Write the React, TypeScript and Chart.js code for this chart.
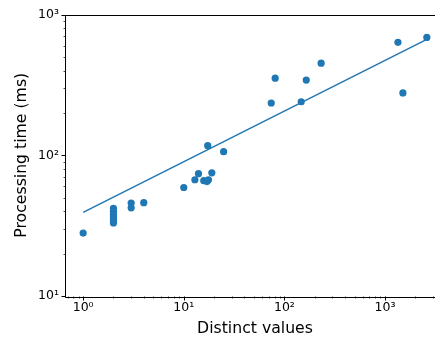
import React, { useEffect, useRef } from "react";
import { Chart, registerables } from "chart.js";

Chart.register(...registerables);

const distinctValues = [1, 2, 2, 2, 2, 2, 2, 2, 3, 3, 4, 10, 12.9, 14, 15.8, 17, 17.6, 19, 17.3, 24.9, 74, 81, 147, 165, 232, 1345, 1507, 2605];
const processingTimes = [28, 42, 40, 38, 37, 35.5, 34, 33, 45.7, 42.3, 46, 59, 67, 74, 66, 65, 67, 75, 117, 106, 235, 353, 240, 342, 451, 634, 277, 687];
const fitX = [1, 2605];
const fitY = [39.3, 666];
const xRange = [0.675, 3860];
const yRange = [10, 1000];
const superDigits: Record<string, string> = { "0": "⁰", "1": "¹", "2": "²", "3": "³", "4": "⁴", "-": "⁻" };

const BLUE = "#1f77b4";

function isDecade(v: number) {
  const l = Math.log10(v);
  return Math.abs(l - Math.round(l)) < 1e-9;
}
function decadeLabel(v: number) {
  const e = String(Math.round(Math.log10(v)));
  return "10" + e.split("").map((c) => superDigits[c] || c).join("");
}
function logTicks(min: number, max: number) {
  const out: { value: number; major: boolean }[] = [];
  for (let e = Math.floor(Math.log10(min)); e <= Math.ceil(Math.log10(max)); e++) {
    for (let m = 1; m <= 9; m++) {
      const v = m * Math.pow(10, e);
      if (v >= min * 0.9999 && v <= max * 1.0001) out.push({ value: v, major: m === 1 });
    }
  }
  return out;
}

const spinesAndTicks = {
  id: "spinesAndTicks",
  afterDraw(chart: any) {
    const ctx = chart.ctx;
    const { left, right, top, bottom } = chart.chartArea;
    ctx.save();
    ctx.strokeStyle = "#000";
    ctx.lineWidth = 1;
    ctx.beginPath();
    ctx.rect(Math.round(left) - 0.5, Math.round(top) + 0.5, Math.round(right - left), Math.round(bottom - top));
    ctx.stroke();
    const xs = chart.scales.x;
    const ys = chart.scales.y;
    for (const t of xs.ticks) {
      const p = xs.getPixelForValue(t.value);
      if (p < left - 0.5 || p > right + 0.5) continue;
      const len = isDecade(t.value) ? 4 : 2;
      ctx.lineWidth = isDecade(t.value) ? 1 : 0.7;
      ctx.beginPath();
      ctx.moveTo(Math.round(p) + 0.5, Math.round(bottom) + 0.5);
      ctx.lineTo(Math.round(p) + 0.5, Math.round(bottom) + 0.5 + len);
      ctx.stroke();
    }
    for (const t of ys.ticks) {
      const p = ys.getPixelForValue(t.value);
      if (p < top - 0.5 || p > bottom + 0.5) continue;
      const len = isDecade(t.value) ? 4 : 2;
      ctx.lineWidth = isDecade(t.value) ? 1 : 0.7;
      ctx.beginPath();
      ctx.moveTo(Math.round(left) - 0.5, Math.round(p) + 0.5);
      ctx.lineTo(Math.round(left) - 0.5 - len, Math.round(p) + 0.5);
      ctx.stroke();
    }
    ctx.restore();
  },
};

export default function App() {
  const ref = useRef<HTMLCanvasElement | null>(null);
  useEffect(() => {
    if (!ref.current) return;
    const font = "'DejaVu Sans', sans-serif";
    const chart = new Chart(ref.current, {
      type: "scatter",
      data: {
        datasets: [
          {
            type: "line",
            data: fitX.map((x, i) => ({ x, y: fitY[i] })),
            borderColor: BLUE,
            borderWidth: 1.5,
            pointRadius: 0,
            fill: false,
          } as any,
          {
            data: distinctValues.map((x, i) => ({ x, y: processingTimes[i] })),
            backgroundColor: BLUE,
            borderColor: BLUE,
            borderWidth: 0,
            pointRadius: 3.6,
          },
        ],
      },
      options: {
        responsive: false,
        devicePixelRatio: 1,
        animation: false,
        layout: { padding: { top: 13, left: 0, right: 0, bottom: 0 } },
        plugins: { legend: { display: false }, tooltip: { enabled: false } },
        scales: {
          x: {
            type: "logarithmic",
            min: xRange[0],
            max: xRange[1],
            afterBuildTicks: (s: any) => { s.ticks = logTicks(xRange[0], xRange[1]); },
            afterFit: (s: any) => { s.height = 43; },
            grid: { display: false, drawTicks: false },
            border: { display: false },
            ticks: {
              autoSkip: false,
              maxRotation: 0,
              padding: 4,
              color: "#000",
              font: { family: font, size: 12.5 },
              callback: (v: any) => (isDecade(Number(v)) ? decadeLabel(Number(v)) : ""),
            },
            title: {
              display: true,
              text: "Distinct values",
              color: "#000",
              font: { family: font, size: 15.7 },
              padding: { top: 0, bottom: 1 },
            },
          },
          y: {
            type: "logarithmic",
            min: yRange[0],
            max: yRange[1],
            afterBuildTicks: (s: any) => { s.ticks = logTicks(yRange[0], yRange[1]); },
            afterFit: (s: any) => { s.width = 66; },
            grid: { display: false, drawTicks: false },
            border: { display: false },
            ticks: {
              autoSkip: false,
              padding: 7,
              color: "#000",
              font: { family: font, size: 12.5 },
              callback: (v: any) => (isDecade(Number(v)) ? decadeLabel(Number(v)) : ""),
            },
            title: {
              display: true,
              text: "Processing time (ms)",
              color: "#000",
              font: { family: font, size: 15.7 },
              padding: { top: 13, bottom: 0 },
            },
          },
        },
      },
      plugins: [spinesAndTicks],
    });
    return () => chart.destroy();
  }, []);
  return (
    <div style={{ position: "fixed", left: 0, top: 0, width: 435, height: 339, overflow: "hidden", background: "#fff" }}>
      <canvas ref={ref} width={448} height={339} style={{ display: "block" }} />
    </div>
  );
}
